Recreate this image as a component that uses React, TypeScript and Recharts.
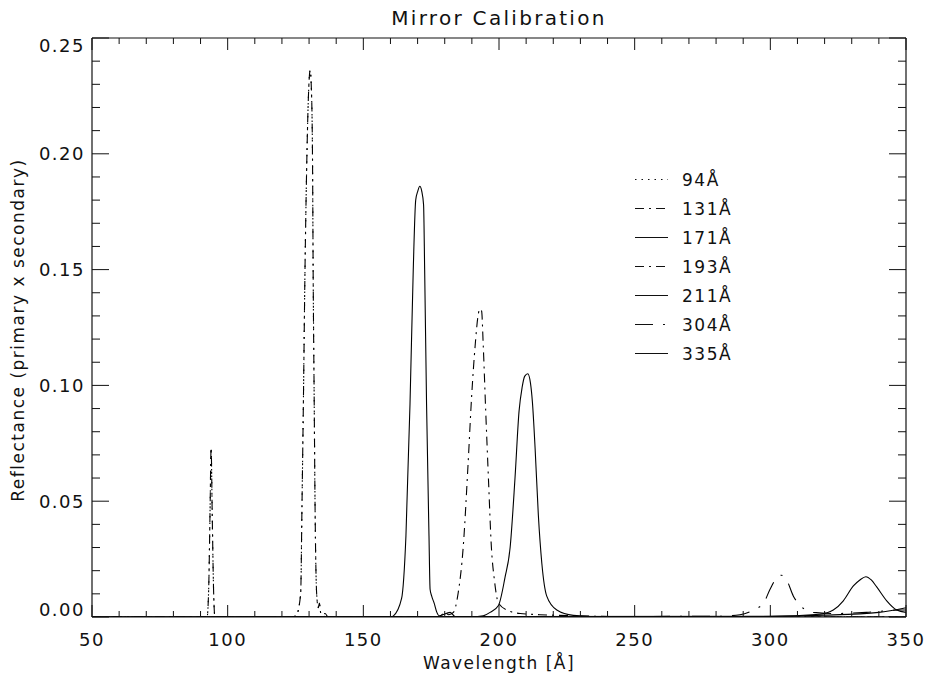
import React from "react";
import { LineChart, Line, XAxis, YAxis, Legend } from "recharts";

// wavelength [Å] / reflectance pairs
const wl94 = [50, 90, 92.4, 93.0, 93.5, 93.9, 94.3, 94.8, 95.3, 100, 124, 125.4, 126.9, 127.4, 127.9, 128.5, 129.1, 129.8, 130.4, 131.0, 131.3, 131.5, 131.9, 132.2, 132.8, 133.4, 133.8, 134.4, 137, 200, 350];
const r94 = [0, 0, 0, 0.012, 0.045, 0.073, 0.045, 0.012, 0, 0, 0, 0.001, 0.01, 0.049, 0.092, 0.15, 0.193, 0.226, 0.236, 0.222, 0.193, 0.15, 0.092, 0.049, 0.01, 0.004, 0.006, 0.001, 0, 0, 0];

const wl131 = [50, 90, 92.4, 93.0, 93.5, 93.9, 94.3, 94.8, 95.3, 100, 124, 125.4, 126.9, 127.4, 127.9, 128.5, 129.1, 129.8, 130.4, 131.0, 131.3, 131.5, 131.9, 132.2, 132.8, 133.4, 133.8, 134.4, 135.9, 137, 200, 350];
const r131 = [0, 0, 0, 0.012, 0.045, 0.073, 0.045, 0.012, 0, 0, 0, 0.001, 0.01, 0.049, 0.092, 0.15, 0.193, 0.226, 0.236, 0.222, 0.193, 0.15, 0.092, 0.049, 0.01, 0.004, 0.006, 0.001, 0.0015, 0, 0, 0];

const wl171 = [50, 160, 161.1, 164.1, 165.7, 167.2, 168.4, 169.3, 170.1, 170.8, 171.5, 172.2, 172.6, 173.3, 174.2, 174.6, 175.2, 176.1, 177.1, 178, 182, 184, 200, 280, 320, 340, 350];
const r171 = [0, 0, 0.0005, 0.008, 0.035, 0.092, 0.15, 0.18, 0.184, 0.186, 0.184, 0.178, 0.15, 0.092, 0.035, 0.012, 0.009, 0.006, 0.002, 0.0005, 0.002, 0, 0, 0, 0.0008, 0.002, 0.004];

const wl193 = [50, 178, 180, 181.5, 183.2, 184.9, 186.8, 188.6, 189.9, 191.2, 192.4, 193.0, 193.6, 194.2, 195.1, 196.1, 197.2, 198.3, 199.8, 202.9, 207.8, 215, 230, 250, 350];
const r193 = [0, 0, 0.002, 0.001, 0.002, 0.01, 0.03, 0.066, 0.095, 0.117, 0.131, 0.133, 0.132, 0.117, 0.089, 0.06, 0.03, 0.016, 0.006, 0.003, 0.0015, 0.001, 0.0005, 0, 0];

const wl211 = [50, 190, 194.2, 196.7, 199.8, 202.2, 204.1, 205.9, 207.4, 208.5, 209.5, 210.6, 211.6, 212.3, 213.3, 214.5, 215.8, 217.6, 221.3, 227.4, 240, 350];
const r211 = [0, 0, 0.0005, 0.002, 0.005, 0.017, 0.03, 0.06, 0.089, 0.099, 0.104, 0.105, 0.101, 0.093, 0.073, 0.044, 0.023, 0.009, 0.003, 0.0007, 0, 0];

const wl304 = [50, 280, 288.8, 293.7, 297.5, 299.9, 302.4, 304.0, 306.0, 308.5, 311.0, 315.8, 323, 335.4, 347.8, 350];
const r304 = [0, 0.0003, 0.001, 0.003, 0.006, 0.012, 0.017, 0.018, 0.016, 0.009, 0.005, 0.002, 0.0015, 0.002, 0.003, 0.003];

const wl335 = [50, 300, 318.3, 323.2, 326.9, 330.6, 333, 335.2, 337.2, 339.2, 342.9, 346.6, 350];
const r335 = [0, 0.0003, 0.0012, 0.003, 0.007, 0.0134, 0.016, 0.0174, 0.016, 0.013, 0.007, 0.003, 0.002];

const xTicks = [50, 60, 70, 80, 90, 100, 110, 120, 130, 140, 150, 160, 170, 180, 190, 200, 210, 220, 230, 240, 250, 260, 270, 280, 290, 300, 310, 320, 330, 340, 350];
const yTicks = [0, 0.01, 0.02, 0.03, 0.04, 0.05, 0.06, 0.07, 0.08, 0.09, 0.1, 0.11, 0.12, 0.13, 0.14, 0.15, 0.16, 0.17, 0.18, 0.19, 0.2, 0.21, 0.22, 0.23, 0.24, 0.25];

const FONT = "'DejaVu Sans', sans-serif";
const INK = "#111";

const pts = (xs: number[], ys: number[]) => xs.map((x, i) => ({ x, y: ys[i] }));

const series = [
  { name: "94Å", data: pts(wl94, r94), dash: "1.5 5" },
  { name: "131Å", data: pts(wl131, r131), dash: "9 5 2 5" },
  { name: "171Å", data: pts(wl171, r171), dash: undefined },
  { name: "193Å", data: pts(wl193, r193), dash: "9 5 2 5" },
  { name: "211Å", data: pts(wl211, r211), dash: undefined },
  { name: "304Å", data: pts(wl304, r304), dash: "18 10 2 10" },
  { name: "335Å", data: pts(wl335, r335), dash: undefined },
];

// IDL-style inward ticks; x,y come in as the axis line position
const XTick = ({ x, y, payload, top }: any) => {
  const major = payload.value % 50 === 0;
  const len = major ? 12 : 6;
  return (
    <g>
      <line x1={x} x2={x} y1={y} y2={top ? y + len : y - len} stroke={INK} strokeWidth={1} />
      {!top && major && (
        <text x={x} y={y + 23} dy="0.35em" textAnchor="middle" fontFamily={FONT} fontSize={18} letterSpacing={1.5} fill={INK}>
          {payload.value}
        </text>
      )}
    </g>
  );
};

const YTick = ({ x, y, payload, right }: any) => {
  const v = payload.value;
  const major = Math.round(v * 100) % 5 === 0;
  const len = major ? 17 : 8;
  let dy = 0;
  if (v >= 0.25) dy = 8;
  if (v === 0) dy = -7;
  return (
    <g>
      <line x1={x} x2={right ? x - len : x + len} y1={y} y2={y} stroke={INK} strokeWidth={1} />
      {!right && major && (
        <text x={x - 7} y={y + dy} dy="0.35em" textAnchor="end" fontFamily={FONT} fontSize={18} letterSpacing={1.5} fill={INK}>
          {v.toFixed(2)}
        </text>
      )}
    </g>
  );
};

const LegendBox = () => (
  <div style={{ fontFamily: FONT, fontSize: 17, letterSpacing: 1.5, color: INK, textAlign: "left" }}>
    {series.map((s) => (
      <div key={s.name} style={{ display: "flex", alignItems: "center", height: 29 }}>
        <svg width={49} height={29}>
          <line x1={2} x2={35} y1={14.5} y2={14.5} stroke={INK} strokeWidth={1.1} strokeDasharray={s.dash} />
        </svg>
        <span>{s.name}</span>
      </div>
    ))}
  </div>
);

const axisLine = { stroke: INK, strokeWidth: 1.2 };

export default function App() {
  return (
    <div style={{ position: "absolute", left: 0, top: 0, width: 932, height: 678, background: "#fff" }}>
      <div style={{ position: "absolute", left: 92, width: 814, top: 6, lineHeight: "24px", textAlign: "center", fontFamily: FONT, fontSize: 20, letterSpacing: 2.3, color: INK }}>
        Mirror Calibration
      </div>
      <LineChart width={932} height={678} margin={{ top: 37, right: 25, bottom: 60, left: 91 }}>
        <XAxis xAxisId="b" type="number" dataKey="x" domain={[50, 350]} ticks={xTicks} interval={0} allowDataOverflow height={1} tickSize={0} tickMargin={0} tickLine={false} axisLine={axisLine} tick={<XTick />} />
        <XAxis xAxisId="t" orientation="top" type="number" dataKey="x" domain={[50, 350]} ticks={xTicks} interval={0} allowDataOverflow height={1} tickSize={0} tickMargin={0} tickLine={false} axisLine={axisLine} tick={<XTick top />} />
        <YAxis yAxisId="l" type="number" domain={[0, 0.25]} ticks={yTicks} interval={0} allowDataOverflow width={1} tickSize={0} tickMargin={0} tickLine={false} axisLine={axisLine} tick={<YTick />} />
        <YAxis yAxisId="r" orientation="right" type="number" domain={[0, 0.25]} ticks={yTicks} interval={0} allowDataOverflow width={1} tickSize={0} tickMargin={0} tickLine={false} axisLine={axisLine} tick={<YTick right />} />
        <Legend
          content={<LegendBox />}
          layout="horizontal"
          verticalAlign="middle"
          align="center"
          wrapperStyle={{ position: "absolute", left: 633, top: 165, width: 120 }}
        />
        {series.map((s) => (
          <Line
            key={s.name}
            name={s.name}
            xAxisId="b"
            yAxisId="l"
            data={s.data}
            dataKey="y"
            type="monotone"
            stroke="#000"
            strokeWidth={1.1}
            strokeDasharray={s.dash}
            dot={false}
            activeDot={false}
            isAnimationActive={false}
          />
        ))}
      </LineChart>
      <div style={{ position: "absolute", left: 92, width: 814, top: 652, lineHeight: "22px", textAlign: "center", fontFamily: FONT, fontSize: 17, letterSpacing: 1.5, color: INK }}>
        Wavelength [Å]
      </div>
      <div style={{ position: "absolute", left: 17.5 - 220, top: 330 - 11, width: 440, lineHeight: "22px", textAlign: "center", transform: "rotate(-90deg)", fontFamily: FONT, fontSize: 17, letterSpacing: 1.5, color: INK }}>
        Reflectance (primary x secondary)
      </div>
    </div>
  );
}
